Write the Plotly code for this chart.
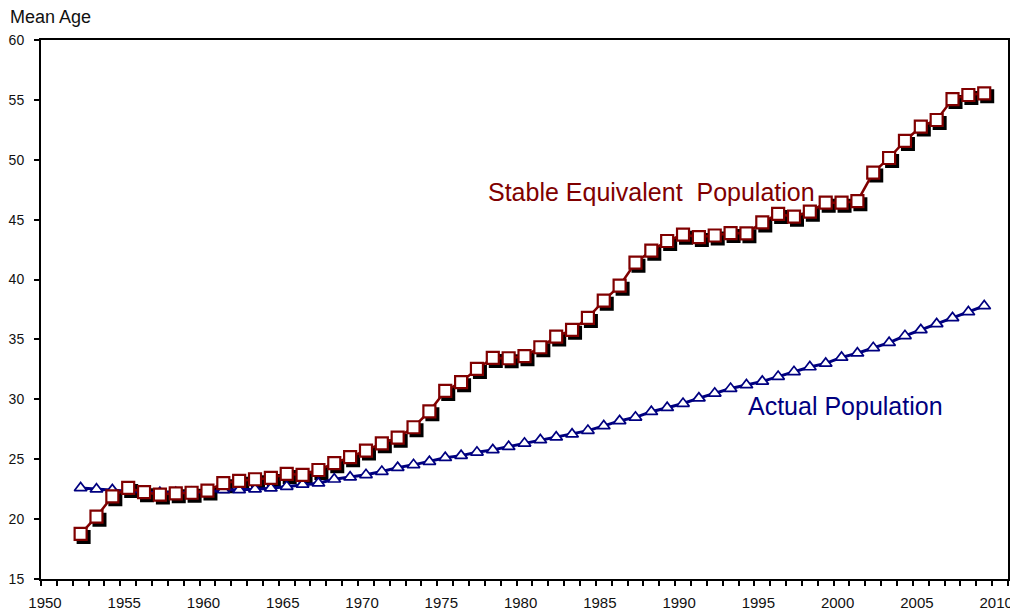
import plotly.graph_objects as go

years = list(range(1952, 2010))

stable_equivalent = [
    18.76, 20.2, 21.9, 22.6, 22.25, 22.05, 22.15, 22.2, 22.38, 23.0,
    23.2, 23.33, 23.44, 23.77, 23.7, 24.1, 24.67, 25.17, 25.72, 26.33,
    26.8, 27.67, 29.0, 30.7, 31.43, 32.54, 33.46, 33.43, 33.6, 34.35,
    35.24, 35.8, 36.8, 38.24, 39.49, 41.41, 42.41, 43.22, 43.75, 43.55,
    43.68, 43.88, 43.86, 44.77, 45.48, 45.25, 45.67, 46.42, 46.42, 46.54,
    48.93, 50.15, 51.57, 52.77, 53.32, 55.07, 55.41, 55.55,
]

actual = [
    22.6, 22.5, 22.44, 22.35, 22.25, 22.2, 22.2, 22.2, 22.25, 22.44,
    22.44, 22.5, 22.58, 22.72, 22.9, 23.0, 23.33, 23.5, 23.7, 23.97,
    24.3, 24.53, 24.8, 25.13, 25.3, 25.58, 25.78, 26.05, 26.33, 26.61,
    26.84, 27.09, 27.39, 27.78, 28.2, 28.5, 28.97, 29.3, 29.65, 30.1,
    30.5, 30.9, 31.2, 31.5, 31.9, 32.3, 32.7, 33.0, 33.5, 33.85,
    34.3, 34.73, 35.3, 35.8, 36.3, 36.8, 37.3, 37.8,
]

tick_years = list(range(1950, 2012))
tick_text = [str(y) if y % 5 == 0 else "" for y in tick_years]

FONT = "Liberation Sans, Arial, sans-serif"
RED = "#800000"
NAVY = "#000080"

# page has an 8px body margin; figure sized to fit the 1018x613 window
W, H = 1010, 605
ML, MR, MT, MB = 33, 10, 32, 34
PW = W - ML - MR
PH = H - MT - MB
SH = 3  # shadow offset in px

xs = [y + 0.5 for y in years]
x_range = [1950, 2011]
y_range = [15, 60]
xspan = x_range[1] - x_range[0]
yspan = y_range[1] - y_range[0]
# base (hidden) axes shifted so the shadow sits SH px right and down
xs_range = [x_range[0] - xspan * SH / PW, x_range[1] - xspan * SH / PW]
ys_range = [y_range[0] + yspan * SH / PH, y_range[1] + yspan * SH / PH]

fig = go.Figure()

# shadow of squares on hidden base axes (drawn beneath overlay)
fig.add_trace(go.Scatter(
    x=xs, y=stable_equivalent, mode="markers",
    marker=dict(symbol="square", size=12, color="black",
                line=dict(color="black", width=2)),
    xaxis="x", yaxis="y", hoverinfo="skip", showlegend=False,
    cliponaxis=False,
))

fig.add_trace(go.Scatter(
    x=xs, y=actual, mode="lines+markers", name="Actual Population",
    line=dict(color=NAVY, width=3),
    marker=dict(symbol="triangle-up", size=11, color="white",
                line=dict(color=NAVY, width=1.7)),
    xaxis="x2", yaxis="y2", showlegend=False,
))

fig.add_trace(go.Scatter(
    x=xs, y=stable_equivalent, mode="lines", name="Stable Equivalent Population",
    line=dict(color=RED, width=2.5),
    xaxis="x2", yaxis="y2", showlegend=False,
))

fig.add_trace(go.Scatter(
    x=xs, y=stable_equivalent, mode="markers",
    marker=dict(symbol="square", size=12, color="white",
                line=dict(color=RED, width=2.2)),
    xaxis="x2", yaxis="y2", showlegend=False,
))

fig.update_layout(
    width=W, height=H,
    margin=dict(l=ML, r=MR, t=MT, b=MB),
    paper_bgcolor="white", plot_bgcolor="white",
    font=dict(family=FONT, color="black", size=13),
    xaxis=dict(range=xs_range, visible=False, domain=[0, 1], anchor="y",
               automargin=False),
    yaxis=dict(range=ys_range, visible=False, domain=[0, 1], anchor="x",
               automargin=False),
    xaxis2=dict(
        range=x_range, overlaying="x", domain=[0, 1], anchor="y2",
        tickvals=tick_years, ticktext=tick_text,
        ticks="outside", ticklen=5, tickwidth=1.5, tickcolor="black",
        showline=True, linecolor="black", linewidth=2, mirror=True,
        showgrid=False, zeroline=False, ticklabelshift=4,
        ticklabelstandoff=4, automargin=False,
        tickfont=dict(size=15, family=FONT, color="#111"),
    ),
    yaxis2=dict(
        range=y_range, overlaying="y", domain=[0, 1], anchor="x2",
        dtick=5, tick0=15,
        ticks="outside", ticklen=5, tickwidth=1.5, tickcolor="black",
        showline=True, linecolor="black", linewidth=2, mirror=True,
        showgrid=False, zeroline=False, ticklabelstandoff=7,
        automargin=False,
        tickfont=dict(size=14, family=FONT, color="#111"),
    ),
    annotations=[
        dict(text="Mean Age", xref="paper", yref="paper",
             x=-33 / PW, y=1 + 23 / PH, xanchor="left", yanchor="middle",
             showarrow=False, font=dict(size=18, family=FONT, color="#111")),
        dict(text="Stable Equivalent\u00a0 Population", xref="x2", yref="y2",
             x=1978.1, y=47.3, xanchor="left", yanchor="middle",
             showarrow=False, font=dict(size=25, family=FONT, color=RED)),
        dict(text="Actual Population", xref="x2", yref="y2",
             x=1994.5, y=29.45, xanchor="left", yanchor="middle",
             showarrow=False, font=dict(size=25, family=FONT, color=NAVY)),
    ],
)

fig.write_html("out.html")
